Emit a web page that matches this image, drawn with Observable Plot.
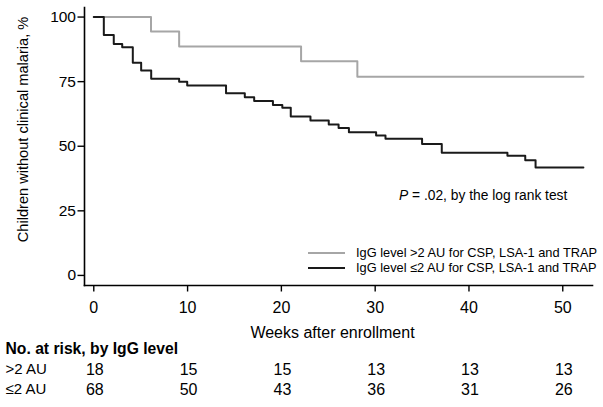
<!DOCTYPE html>
<html>
<head>
<meta charset="utf-8">
<script src="https://cdn.jsdelivr.net/npm/d3@7"></script>
<script src="https://cdn.jsdelivr.net/npm/@observablehq/plot@0.6"></script>
<style>
  html, body { margin: 0; padding: 0; background: #fff; }
  #chart { width: 603px; height: 407px; }
</style>
</head>
<body>
<div id="chart"></div>
<script>
// ---- Data ----
const highLabel = "IgG level >2 AU for CSP, LSA-1 and TRAP";
const lowLabel = "IgG level \u22642 AU for CSP, LSA-1 and TRAP";

const highWeeks = [0, 6.1, 9.1, 22.1, 28.1, 52.2];
const highSurv  = [100, 94.4, 88.6, 82.9, 76.9, 76.9];

const lowWeeks = [0, 1.07, 2.13, 3.03, 4.16, 5.05, 6.12, 9.1, 9.96, 14.1, 16.1, 17.1, 19.1, 20.1, 21.0, 23.1, 25.05, 26.1, 27.2, 30.1, 31.1, 35.0, 37.1, 44.1, 46.0, 47.1, 52.2];
const lowSurv  = [100, 93.1, 89.6, 88.3, 82.3, 79.3, 76.1, 75.0, 73.5, 70.5, 69.0, 67.5, 66.0, 64.9, 61.5, 60.0, 58.4, 57.1, 55.4, 54.2, 52.9, 50.9, 47.5, 46.3, 44.6, 41.8, 41.8];

const xTicks = [0, 10, 20, 30, 40, 50];
const yTicks = [0, 25, 50, 75, 100];

const riskWeeks = [0, 10, 20, 30, 40, 50];
const riskHigh = [18, 15, 15, 13, 13, 13];
const riskLow  = [68, 50, 43, 36, 31, 26];
const riskTitle = "No. at risk, by IgG level";
const riskRowLabels = [">2 AU", "\u22642 AU"];

const xTitle = "Weeks after enrollment";
const yTitle = "Children without clinical malaria, %";
const pText = " = .02, by the log rank test";

// ---- Tables built from arrays ----
const high = highWeeks.map((w, i) => ({week: w, surv: highSurv[i]}));
const low = lowWeeks.map((w, i) => ({week: w, surv: lowSurv[i]}));
const riskHighRow = riskWeeks.map((w, i) => ({week: w, n: riskHigh[i]}));
const riskLowRow = riskWeeks.map((w, i) => ({week: w, n: riskLow[i]}));

const FONT = "Liberation Sans, Arial, Helvetica, sans-serif";
const GREY = "#a6a6a6";
const BLACK = "#1a1a1a";

const plot = Plot.plot({
  width: 603,
  height: 407,
  marginLeft: 84,
  marginRight: 11,
  marginTop: 7,
  marginBottom: 122,
  style: {fontFamily: FONT, fontSize: "15px", color: "#000", background: "#fff", overflow: "visible"},
  x: {domain: [-0.99, 53.17]},
  y: {domain: [-3.9, 103.7]},
  marks: [
    Plot.frame({anchor: "left", stroke: "#000", strokeWidth: 1.6}),
    Plot.frame({anchor: "bottom", stroke: "#000", strokeWidth: 1.6}),
    Plot.axisY(yTicks, {tickSize: 6.5, tickPadding: 2, label: null, fontSize: 15.5, strokeWidth: 1.4}),
    Plot.axisX(xTicks, {tickSize: 6.5, tickPadding: 9.5, label: null, fontSize: 16, strokeWidth: 1.4}),
    Plot.line(high, {x: "week", y: "surv", curve: "step-after", stroke: GREY, strokeWidth: 2}),
    Plot.line(low, {x: "week", y: "surv", curve: "step-after", stroke: BLACK, strokeWidth: 2}),
    // y axis title
    Plot.text([yTitle], {frameAnchor: "left", rotate: -90, dx: -61, dy: -17, fontSize: 14.6, fill: "#000", textAnchor: "middle", lineAnchor: "middle"}),
    // x axis title
    Plot.text([xTitle], {frameAnchor: "bottom", dx: -6, dy: 47, fontSize: 16, fill: "#000", lineAnchor: "middle"}),
    // risk table
    Plot.text([riskTitle], {frameAnchor: "bottom-left", dx: -79, dy: 63, fontSize: 15.7, fontWeight: "bold", textAnchor: "start", lineAnchor: "middle"}),
    Plot.text([riskRowLabels[0]], {frameAnchor: "bottom-left", dx: -79, dy: 84, fontSize: 15, textAnchor: "start", lineAnchor: "middle"}),
    Plot.text([riskRowLabels[1]], {frameAnchor: "bottom-left", dx: -79, dy: 104, fontSize: 15, textAnchor: "start", lineAnchor: "middle"}),
    Plot.text(riskHighRow, {x: "week", text: "n", frameAnchor: "bottom", dx: 1, dy: 84, fontSize: 16, lineAnchor: "middle"}),
    Plot.text(riskLowRow, {x: "week", text: "n", frameAnchor: "bottom", dx: 1, dy: 104, fontSize: 16, lineAnchor: "middle"})
  ]
});

document.getElementById("chart").appendChild(plot);

// ---- Annotation and legend ----
const svg = d3.select(plot);
const ann = svg.append("text")
  .attr("x", 399).attr("y", 195).attr("dy", "0.35em")
  .attr("text-anchor", "start")
  .attr("font-family", FONT).attr("font-size", 13.8).attr("fill", "#000");
ann.append("tspan").attr("font-style", "italic").text("P");
ann.append("tspan").text(pText);

const legend = [
  {label: highLabel, color: GREY, y: 253},
  {label: lowLabel, color: BLACK, y: 268}
];
const lg = svg.append("g");
legend.forEach(d => {
  lg.append("line").attr("x1", 308).attr("x2", 345).attr("y1", d.y).attr("y2", d.y)
    .attr("stroke", d.color).attr("stroke-width", 2);
  lg.append("text").attr("x", 356).attr("y", d.y).attr("dy", "0.35em")
    .attr("text-anchor", "start")
    .attr("font-family", FONT).attr("font-size", 12.8).attr("fill", "#000").text(d.label);
});
</script>
</body>
</html>
